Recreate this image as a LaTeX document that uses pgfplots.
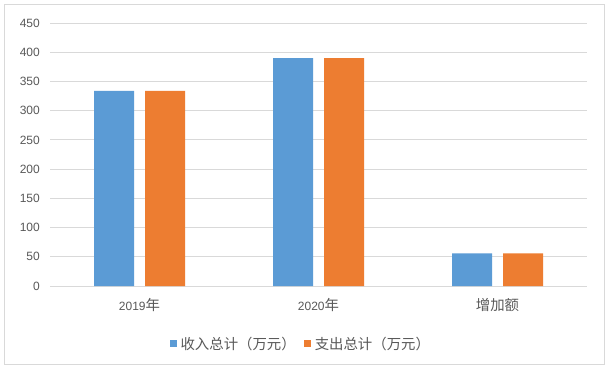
\documentclass[border=0pt]{standalone}
\usepackage{fontspec}
\setmainfont{Liberation Sans}
\newfontfamily\cjk{Noto Sans CJK SC}[Scale=1.2]
\usepackage{pgfplots}
\pgfplotsset{compat=1.18}
\definecolor{bblue}{HTML}{5B9BD5}
\definecolor{borange}{HTML}{ED7D31}
\definecolor{gridc}{HTML}{D9D9D9}
\definecolor{txt}{HTML}{595959}
\pgfplotsset{sqlegend/.style={legend image code/.code={\fill[##1,draw=none] (0pt,-3.5pt) rectangle (7pt,3.5pt);}}}
\begin{document}
\begin{tikzpicture}
\useasboundingbox (0,0) rectangle (612pt,372pt);
\fill[white] (0,0) rectangle (612pt,372pt);
\draw[gridc, line width=0.9pt] (4.5pt,8pt) rectangle (604pt,367.5pt);
\begin{axis}[
  at={(50pt,86pt)}, anchor=south west,
  scale only axis, width=537pt, height=263pt,
  ybar, bar width=40pt,
  xmin=-0.5, xmax=2.5, ymin=0, ymax=450,
  ytick={0,50,...,450}, xtick={0,1,2},
  xticklabels={2019{\cjk 年}, 2020{\cjk 年}, {\cjk 增加额}},
  axis line style={draw=none}, major tick length=0pt,
  ymajorgrids, grid style={gridc, line width=0.9pt},
  /pgf/number format/assume math mode=true,
  ticklabel style={text=txt, font=\fontsize{12pt}{14pt}\selectfont},
  xticklabel style={anchor=center, yshift=-19pt, inner sep=0pt},
  yticklabel style={anchor=east, xshift=-10pt, inner sep=0pt},
  legend style={at={(0.467,-0.219)}, anchor=center, draw=none, fill=none,
    legend columns=2, text=txt, font=\fontsize{12pt}{14pt}\selectfont,
    /tikz/every even column/.append style={column sep=6pt}},
]
\addplot[fill=bblue, draw=none, bar shift=-25.5pt, sqlegend] coordinates {(0,334) (1,390) (2,56)};
\addlegendentry{\hspace{2pt}\cjk 收入总计（万元）}
\addplot[fill=borange, draw=none, bar shift=25.5pt, sqlegend] coordinates {(0,334) (1,390) (2,56)};
\addlegendentry{\hspace{2pt}\cjk 支出总计（万元）}
\end{axis}
\end{tikzpicture}
\end{document}
